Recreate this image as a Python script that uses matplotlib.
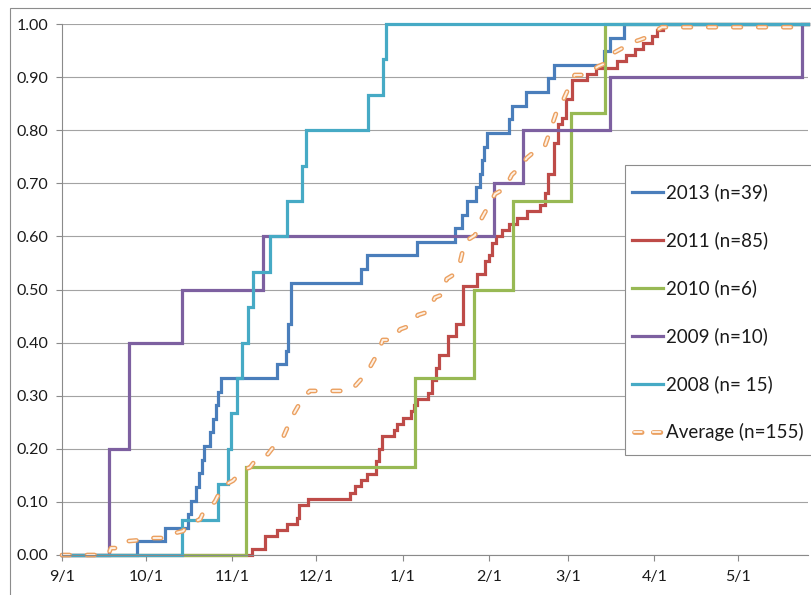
import matplotlib
matplotlib.use("Agg")
import numpy as np
import matplotlib.pyplot as plt
from matplotlib.patches import Rectangle
from matplotlib.lines import Line2D
from matplotlib.ticker import FormatStrFormatter

plt.rcParams['font.family'] = ['Lato', 'DejaVu Sans']
plt.rcParams['lines.scale_dashes'] = False

# ---------------- data (x = days after 9/1) ----------------
END_DAY = 267

tick_days = [0, 30, 61, 91, 122, 153, 181, 212, 242]
tick_labels = ['9/1', '10/1', '11/1', '12/1', '1/1', '2/1', '3/1', '4/1', '5/1']

labels = ['2013 (n=39)', '2011 (n=85)', '2010 (n=6)', '2009 (n=10)', '2008 (n= 15)']
n_values = [39, 85, 6, 10, 15]

days_2013 = [0, 27, 37, 45, 46, 48, 49, 50, 51, 53, 54, 55, 56, 57, 77, 80, 81, 82,
             107, 109, 127, 140.5, 143, 145, 148, 149.5, 150.5, 151, 152, 160, 161,
             166, 174, 176, 194, 196, 201]
counts_2013 = [0, 1, 2, 3, 4, 5, 6, 7, 8, 9, 10, 11, 12, 13, 14, 15, 17, 20,
               21, 22, 23, 24, 25, 26, 27, 28, 29, 30, 31, 32, 33,
               34, 35, 36, 37, 38, 39]

days_2011 = [0, 68, 72.5, 77, 80.5, 84, 85, 88, 103, 105, 107, 109, 112.5, 113.5, 114.5,
             119, 120, 122, 125, 126, 127, 131, 132.5, 134, 135, 138, 141, 143.5,
             148.5, 151.5, 153, 154, 155.5, 157.5, 160, 163, 166.5, 171,
             173, 174, 176, 177.5, 179, 180.5, 182.5, 188, 191,
             198.5, 202, 205, 208, 211, 213, 215]
counts_2011 = [0, 1, 3, 4, 5, 6, 8, 9, 10, 11, 12, 13, 15, 17, 19,
               20, 21, 22, 23, 24, 25, 26, 28, 30, 32, 35, 37, 43,
               45, 47, 48, 50, 51, 52, 53, 54, 55, 56,
               58, 61, 66, 69, 70, 73, 76, 77, 78,
               79, 80, 81, 82, 83, 84, 85]

days_2010 = [0, 66, 126.5, 147.5, 161.5, 182, 194.5]
counts_2010 = [0, 1, 2, 3, 4, 5, 6]

days_2009 = [0, 17, 24, 43, 72, 154.5, 165, 196, 265]
counts_2009 = [0, 2, 4, 5, 6, 7, 8, 9, 10]

days_2008 = [0, 43, 56, 59.5, 60.5, 62.5, 64.5, 66.5, 68.5, 74.5, 80.5, 86, 87.5,
             109.5, 115, 116]
counts_2008 = [0, 1, 2, 3, 4, 5, 6, 7, 8, 9, 10, 11, 12, 13, 14, 15]

avg_label = 'Average (n=155)'
avg_days = [0, 16.5, 17.5, 21.5, 23.3, 28, 30.4, 37, 39.4, 43.3,
            45.8, 49.4, 51, 54.7, 57.6, 61.2, 64.8, 67.3, 69.4, 73.7,
            76.2, 79, 82.3, 86.2, 88.7, 103, 105.2, 109.1, 113, 114.8,
            118.4, 121, 125.2, 127.4, 131, 133.5, 136, 137.7, 139.9, 142.4,
            144.2, 147.8, 150.3, 152.4, 155, 158.5, 161, 163.9, 166.4, 170.3,
            172.8, 174.6, 176.7, 178.9, 181.8, 183.5, 187.8, 191.8, 195, 197.9,
            200.7, 203.2, 206.8, 209.3, 211.4, 214.7, 267]
avg_vals = [0, 0, 0.013, 0.013, 0.026, 0.028, 0.032, 0.032, 0.04, 0.045,
            0.06, 0.067, 0.085, 0.1, 0.13, 0.14, 0.16, 0.165, 0.18, 0.19,
            0.207, 0.22, 0.26, 0.296, 0.309, 0.309, 0.32, 0.343, 0.38, 0.405,
            0.405, 0.425, 0.433, 0.452, 0.458, 0.485, 0.49, 0.52, 0.527, 0.55,
            0.59, 0.602, 0.635, 0.655, 0.68, 0.69, 0.716, 0.73, 0.748, 0.765,
            0.77, 0.797, 0.83, 0.851, 0.885, 0.904, 0.904, 0.92, 0.927, 0.947,
            0.955, 0.964, 0.97, 0.975, 0.983, 0.994, 0.994]

colors = ['#4A7EBB', '#BE4B48', '#98B954', '#7D60A0', '#46AAC5']
avg_edge = '#EBA060'
avg_fill = '#FDF0E4'

series_days = [days_2013, days_2011, days_2010, days_2009, days_2008]
series_counts = [counts_2013, counts_2011, counts_2010, counts_2009, counts_2008]

# ---------------- figure ----------------
W, H = 811, 595
fig = plt.figure(figsize=(W / 100, H / 100), dpi=100)
ax = fig.add_axes([62 / W, 40 / H, 746 / W, 531 / H])

LW = 2.3
for d, c, n, col in zip(series_days, series_counts, n_values, colors):
    x = list(d) + [END_DAY]
    y = [v / n for v in c] + [c[-1] / n]
    ax.plot(x, y, drawstyle='steps-post', color=col, lw=LW, clip_on=False,
            solid_joinstyle='miter')

dash = (0, (5.5, 12.5))
ax.plot(avg_days, avg_vals, color=avg_edge, lw=3.4, linestyle=dash,
        dash_capstyle='round', clip_on=False)
ax.plot(avg_days, avg_vals, color=avg_fill, lw=1.4, linestyle=dash,
        dash_capstyle='round', clip_on=False)

ax.set_xlim(0, END_DAY)
ax.set_ylim(0, 1.0)
ax.set_xticks(tick_days)
ax.set_xticklabels(tick_labels)
ax.set_yticks(np.round(np.arange(0, 1.001, 0.1), 2))
ax.yaxis.set_major_formatter(FormatStrFormatter('%.2f'))
ax.yaxis.grid(True, color='#A3A3A3', lw=0.8)
ax.set_axisbelow(True)
for s in ['top', 'right']:
    ax.spines[s].set_visible(False)
for s in ['left', 'bottom']:
    ax.spines[s].set_color('#8A8A8A')
    ax.spines[s].set_linewidth(0.8)
ax.tick_params(axis='both', direction='out', length=4, width=0.8, color='#8A8A8A',
               labelsize=11.5, labelcolor='#1A1A1A')
ax.tick_params(axis='y', pad=6)
ax.tick_params(axis='x', pad=7)

# outer chart-area border
fig.add_artist(Rectangle((10 / W, -0.05), 1.2, 1.05 - 8 / H, transform=fig.transFigure,
                         fill=False, edgecolor='#8C8C8C', lw=0.8))

# legend box (manual, Excel-like)
def fx(px):
    return px / W

def fy(py):
    return 1 - py / H

fig.add_artist(Rectangle((fx(625), fy(455)), fx(830) - fx(625), fy(165) - fy(455),
                         transform=fig.transFigure, facecolor='white',
                         edgecolor='#8C8C8C', lw=0.8, zorder=5))
all_labels = labels + [avg_label]
for i, lab in enumerate(all_labels):
    yc = 192 + 48 * i
    if i < len(colors):
        fig.add_artist(Line2D([fx(632), fx(663)], [fy(yc), fy(yc)], transform=fig.transFigure,
                              color=colors[i], lw=LW, zorder=6))
    else:
        for col, lw in [(avg_edge, 3.4), (avg_fill, 1.4)]:
            fig.add_artist(Line2D([fx(634), fx(663)], [fy(yc), fy(yc)], transform=fig.transFigure,
                                  color=col, lw=lw, linestyle=(0, (5.5, 8)),
                                  dash_capstyle='round', zorder=6))
    fig.text(fx(666), fy(yc), lab, fontsize=13.5, va='center', ha='left',
             color='#1A1A1A', zorder=7)

fig.savefig('out.png', dpi=100)
